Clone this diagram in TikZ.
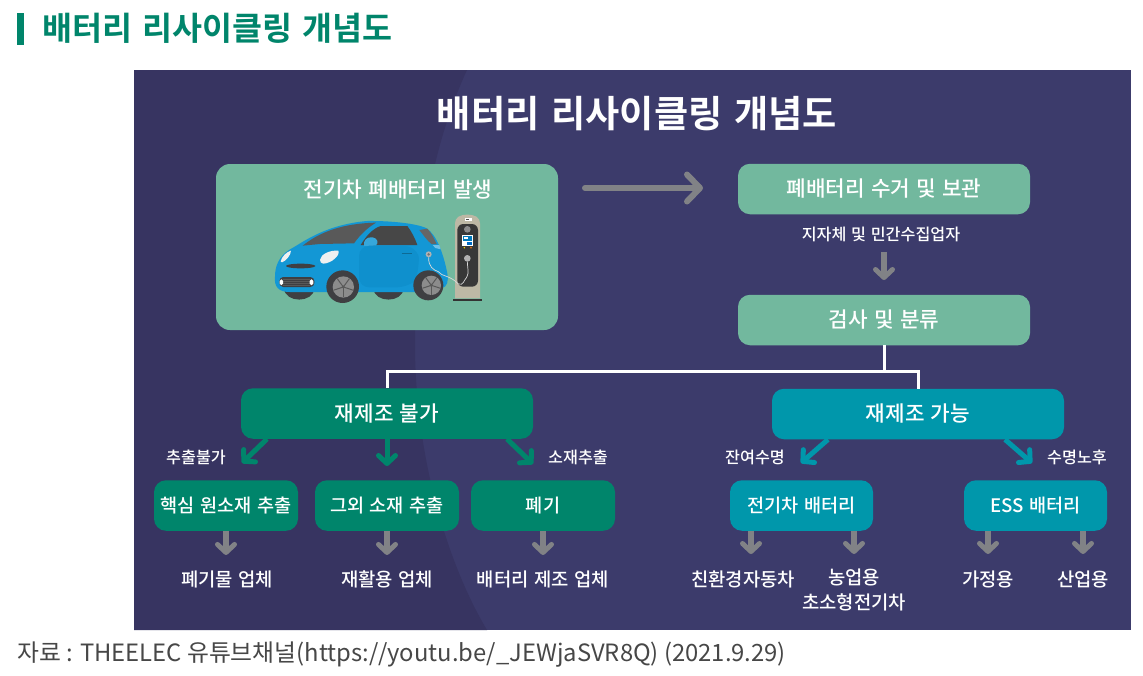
\documentclass[tikz,border=0pt]{standalone}
\usepackage{fontspec}
\usetikzlibrary{arrows.meta,calc}
\newfontfamily\krm[WordSpace=1.3]{Noto Sans CJK KR Medium}
\newfontfamily\krr{Noto Sans CJK KR}
\newfontfamily\krb[WordSpace=1.7]{Noto Sans CJK KR Bold}
\newfontfamily\krt[WordSpace=1.4]{Noto Sans CJK KR Bold}
\definecolor{paneldark}{HTML}{373461}
\definecolor{panel}{HTML}{3C3B6B}
\definecolor{mint}{HTML}{72B89E}
\definecolor{deepgreen}{HTML}{00856B}
\definecolor{teal}{HTML}{0097AB}
\definecolor{arrowgrey}{HTML}{818286}
\definecolor{carblue}{HTML}{1397D5}
\definecolor{cardoor}{HTML}{0F90CD}
\definecolor{tyre}{HTML}{3F3F42}
\definecolor{tan}{HTML}{BDB8A5}
\tikzset{
  boxbase/.style={rounded corners=12pt,minimum height=50.5pt,text=white,inner sep=0pt,font=\krm\fontsize{21.3}{25}\selectfont},
  mintbox/.style={boxbase,fill=mint,minimum width=292pt},
  greenbig/.style={boxbase,fill=deepgreen,minimum width=292pt},
  tealbig/.style={boxbase,fill=teal,minimum width=292pt},
  greensub/.style={boxbase,fill=deepgreen,minimum width=144pt,font=\krm\fontsize{18.6}{22}\selectfont},
  tealsub/.style={boxbase,fill=teal,minimum width=143pt,font=\krm\fontsize{18.6}{22}\selectfont},
  lab/.style={text=white,inner sep=0pt,align=center,font=\krm\fontsize{18.8}{25}\selectfont},
  smalllab/.style={text=white,inner sep=0pt,font=\krm\fontsize{16.2}{18}\selectfont},
  tree/.style={draw=white,line width=3pt},
  greyarrow/.style={draw=arrowgrey,line width=6pt,-{Straight Barb[length=8pt,width=17pt,round,line width=5pt]}},
  greenarrow/.style={draw=deepgreen,line width=5pt,-{Straight Barb[length=8pt,width=17pt,round,line width=5pt]}},
  tealarrow/.style={draw=teal,line width=5pt,-{Straight Barb[length=8pt,width=17pt,round,line width=5pt]}},
  bigarrow/.style={draw=arrowgrey,line width=6pt,line cap=round,-{Straight Barb[length=13pt,width=27pt,round]}},
}
\begin{document}
\begin{tikzpicture}[x=1pt,y=-1pt]
\useasboundingbox (0,0) rectangle (1143,675);
\fill[white] (0,0) rectangle (1143,675);
% heading
\fill[deepgreen] (17,13) rectangle (24,45);
\node[anchor=west,inner sep=0pt,text=deepgreen] (heading) at (42,28) {\krb\fontsize{32.6}{36}\selectfont 배터리 리사이클링 개념도};
% panel
\fill[panel] (134,70) rectangle (1131,630);
\fill[paneldark] (134,70) -- (467,70) .. controls (430,150) and (415,250) .. (415,345) .. controls (415,450) and (445,560) .. (487,630) -- (134,630) -- cycle;
\node[text=white,inner sep=0pt] (title) at (637,114) {\krt\fontsize{37.2}{42}\selectfont 배터리 리사이클링 개념도};
% top boxes
\path[fill=mint,rounded corners=14pt] (216,164) rectangle (558,330);
\node[lab,font=\krm\fontsize{21.3}{25}\selectfont] (evlabel) at (398,190) {전기차 폐배터리 발생};
\node[mintbox] (collect) at (884,189) {폐배터리 수거 및 보관};
\node[smalllab] (agency) at (881,234) {지자체 및 민간수집업자};
\node[mintbox] (inspect) at (884,320) {검사 및 분류};
% car
\begin{scope}[shift={(210,160)},x=0.33333pt,y=-0.33333pt]
  \fill[tyre] (222,385) .. controls (225,430) and (310,430) .. (313,385) -- cycle;
  \fill[tyre] (490,385) .. controls (493,430) and (578,430) .. (581,385) -- cycle;
  \fill[carblue] (195,350) .. controls (195,320) and (205,290) .. (240,268)
    .. controls (275,250) and (340,195) .. (470,183)
    .. controls (540,182) and (620,190) .. (650,205)
    .. controls (680,225) and (700,280) .. (712,340)
    .. controls (716,365) and (712,380) .. (695,385)
    -- (640,396) -- (240,396) .. controls (205,396) and (192,380) .. (195,350) -- cycle;
  \fill[cardoor,rounded corners=10pt] (447,258) -- (615,258) .. controls (630,300) and (620,360) .. (590,382) -- (447,382) -- cycle;
  \fill[black!65!white] (278,257) .. controls (330,215) and (400,190) .. (498,188) .. controls (470,205) and (450,225) .. (432,250) -- (330,252) -- cycle;
  \fill[black!72!white] (452,255) .. controls (470,225) and (490,205) .. (512,198) -- (592,198) .. controls (605,215) and (615,235) .. (622,255) -- cycle;
  \fill[black!60!white] (628,210) -- (652,206) .. controls (665,220) and (672,235) .. (680,252) -- (664,252) .. controls (650,240) and (640,225) .. (628,210) -- cycle;
  \fill[carblue!60!white] (668,255) -- (688,255) -- (692,268) -- (676,264) -- cycle;
  \fill[carblue!85!white] (462,258) .. controls (460,240) and (470,230) .. (488,232) .. controls (505,235) and (505,250) .. (498,256) -- cycle;
  \fill[black!6!white] (330,300) .. controls (332,282) and (360,270) .. (385,272) .. controls (392,285) and (365,310) .. (340,311) .. controls (334,311) and (330,306) .. (330,300) -- cycle;
  \fill[black!6!white] (212,304) .. controls (215,290) and (230,275) .. (243,272) .. controls (243,285) and (228,303) .. (216,307) -- cycle;
  \fill[tyre] (272,318) ellipse[x radius=44,y radius=7];
  \fill[tyre,rounded corners=4pt] (208,351) rectangle (313,381);
  \draw[black!65!white,line width=0.5pt] (220,357) -- (300,357) (220,363) -- (300,363) (220,369) -- (300,369) (220,375) -- (300,375);
  \fill[white,rounded corners=1.5pt] (209,358) rectangle (219,375);
  \fill[white,rounded corners=1.5pt] (299,358) rectangle (310,375);
  \draw[black!30!carblue,line width=0.5pt] (575,281) -- (605,281);
  % wheels
  \fill[tyre] (398,380) circle[radius=49];
  \fill[black!45!white] (400,381) circle[radius=32];
  \foreach \a in {18,90,162,234,306} \draw[black!65!white,line width=1pt] (400,381) -- ++(\a:31);
  \fill[black!65!white] (400,381) circle[radius=5];
  \fill[tyre] (655,376) circle[radius=45];
  \fill[black!45!white] (664,376) circle[radius=29];
  \foreach \a in {18,90,162,234,306} \draw[black!65!white,line width=1pt] (664,376) -- ++(\a:28);
  \fill[black!65!white] (664,376) circle[radius=5];
  % station
  \fill[tan] (735,415) -- (735,190) .. controls (735,172) and (750,164) .. (772,164) .. controls (795,164) and (810,172) .. (810,190) -- (810,415) -- cycle;
  \fill[black!80!white] (729,416) rectangle (816,422);
  \fill[black!78!white,rounded corners=6pt] (742,192) rectangle (804,380);
  \fill[white] (765,174) rectangle (785,183);
  \fill[black!70!white] (768,176) rectangle (776,181);
  \fill[black!45!white] (772,208) circle[radius=10];
  \fill[white] (756,225) rectangle (790,258);
  \fill[teal!80!blue] (759,228) rectangle (787,243);
  \fill[white] (763,232) rectangle (775,236);
  \fill[teal!70!blue] (772,246) rectangle (787,255);
  \fill[yellow!85!orange] (763,263) circle[radius=2.5];
  \fill[orange!90!red] (783,263) circle[radius=2.5];
  \fill[black!30!white] (772,295) circle[radius=10];
  \fill[black!30!white] (656,283) circle[radius=9];
  \fill[black!55!white] (656,283) circle[radius=4];
  \draw[white!85!black,line width=0.7pt] (656,292) .. controls (655,320) and (670,330) .. (685,335) .. controls (695,350) and (720,345) .. (745,372) .. controls (760,378) and (762,360) .. (770,352) .. controls (778,340) and (772,320) .. (772,305);
\end{scope}
% tree
\node[greenbig] (no) at (387,413.5) {재제조 불가};
\node[tealbig] (yes) at (918,414) {재제조 가능};
\coordinate (bus) at (884,371);
\draw[tree] (inspect.south) -- (bus);
\draw[tree] (no.north) |- (bus) -| (yes.north);
% sub boxes
\node[greensub] (core) at (226,505.5) {핵심 원소재 추출};
\node[greensub] (other) at (387,505.5) {그외 소재 추출};
\node[greensub] (waste) at (543,505.5) {폐기};
\node[tealsub] (evbat) at (801.5,505.5) {전기차 배터리};
\node[tealsub] (ess) at (1035.5,505.5) {ESS 배터리};
% edge labels
\node[smalllab] (l1) at (196,457) {추출불가};
\node[smalllab] (l2) at (578,457) {소재추출};
\node[smalllab] (l3) at (755,457) {잔여수명};
\node[smalllab] (l4) at (1077,457) {수명노후};
% destinations
\node[lab] (d1) at (227,579) {폐기물 업체};
\node[lab] (d2) at (387,579) {재활용 업체};
\node[lab] (d3) at (543,579) {배터리 제조 업체};
\node[lab] (d4) at (743,579) {친환경자동차};
\node[lab,anchor=north] (d5) at (854,569) {농업용\\초소형전기차};
\node[lab] (d6) at (988,579) {가정용};
\node[lab] (d7) at (1083,579) {산업용};
% free ends
\coordinate (ga) at (242,463);
\coordinate (gb) at (387,466);
\coordinate (gc) at (533,464);
\coordinate (ta) at (801,463);
\coordinate (tb) at (1032,463);
\coordinate (ev) at (585,188);
\coordinate (evend) at (703,188);
\coordinate (ag) at (884,252);
\coordinate (agend) at (884,280);
% arrows
\draw[bigarrow] (ev) -- (evend);
\draw[greyarrow] (ag) -- (agend);
\draw[greenarrow] (no.south -| 267,0) -- (ga);
\draw[greenarrow] (no.south) -- (gb);
\draw[greenarrow] (no.south -| 507,0) -- (gc);
\draw[tealarrow] (yes.south -| 828,0) -- (ta);
\draw[tealarrow] (yes.south -| 1005,0) -- (tb);
\draw[greyarrow] (core.south) -- ++(0,24);
\draw[greyarrow] (other.south) -- ++(0,24);
\draw[greyarrow] (waste.south) -- ++(0,24);
\draw[greyarrow] (evbat.south -| 751,0) -- (751,554);
\draw[greyarrow] (evbat.south -| d5.north) -- ++(0,23);
\draw[greyarrow] (ess.south -| d6.north) -- ++(0,23);
\draw[greyarrow] (ess.south -| d7.north) -- ++(0,23);
% source
\node[anchor=west,inner sep=0pt,text=black!72!white] (source) at (17,655) {\krr\fontsize{23.8}{28}\selectfont 자료 : THEELEC 유튜브채널(https://youtu.be/\_JEWjaSVR8Q) (2021.9.29)};
\end{tikzpicture}
\end{document}
